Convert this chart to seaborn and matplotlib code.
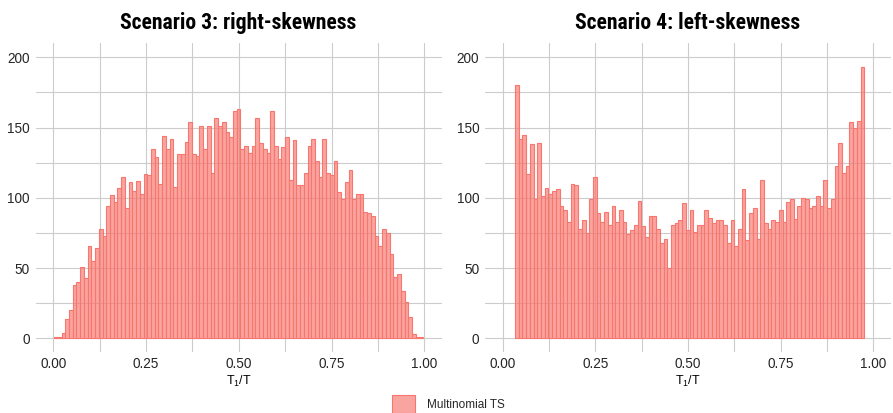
import numpy as np
import matplotlib
matplotlib.use("Agg")
import matplotlib.pyplot as plt
from matplotlib.patches import Patch
from matplotlib import font_manager
import seaborn as sns

# Histogram counts of T1/T (bin width ~0.01) for the two scenarios
right_skew_counts = [
    1, 1, 4, 14, 20, 38, 40, 51, 43, 66, 55, 64,
    78, 73, 94, 102, 97, 107, 115, 93, 111, 105, 112, 103, 117, 116, 135, 129,
    110, 144, 135, 142, 108, 131, 131, 140, 154, 131, 130, 151, 135, 151, 118,
    157, 151, 154, 147, 143, 162, 163, 135,
    137, 132, 137, 157, 139, 135, 132, 162, 137, 128, 136, 143, 113, 141, 109,
    109, 118, 137, 142, 126, 115, 142, 118, 116, 126, 104, 99, 111, 120, 99,
    103, 103, 90, 89, 87, 73, 66, 78, 75, 60,
    44, 46, 34, 26, 15, 3, 1, 1,
]
left_skew_counts = [
    180, 142, 145, 117, 138, 99, 139, 101, 107, 103, 105, 106, 94, 91, 83,
    110, 109, 78, 84, 75, 99, 115, 89, 83, 90, 81, 94, 83, 91, 83, 74, 77,
    81, 98, 80, 72, 87, 87, 78, 68, 71, 50, 81, 82, 84, 96, 77, 91, 76, 81,
    81, 91, 86, 82, 84, 84, 81, 68, 84, 66, 78, 106, 70, 89, 93, 71, 113, 82,
    78, 84, 83, 91, 83, 97, 99, 85, 94, 100, 99, 93, 94, 101, 94, 113, 93, 99,
    123, 139, 118, 123, 154, 150, 155, 193,
]
right_skew_span = (0.002, 0.997)
left_skew_span = (0.0332, 0.9757)

panel_titles = ["Scenario 3: right-skewness", "Scenario 4: left-skewness"]
x_ticks = [0.0, 0.25, 0.5, 0.75, 1.0]
x_tick_labels = ["0.00", "0.25", "0.50", "0.75", "1.00"]
x_minor = [0.125, 0.375, 0.625, 0.875]
y_ticks = [0, 50, 100, 150, 200]
y_minor = [25, 75, 125, 175]
legend_label = "Multinomial TS"

available = {f.name for f in font_manager.fontManager.ttflist}


def pick(*names):
    for n in names:
        if n in available:
            return n
    return "DejaVu Sans"


body_font = pick("Liberation Sans", "Arial", "DejaVu Sans")
title_font = pick("Liberation Sans Narrow", "Roboto Condensed", "Liberation Sans")
title_size = 15.6 if title_font != "Liberation Sans" else 13.0

sns.set_theme(style="whitegrid")
plt.rcParams["font.family"] = [body_font, "DejaVu Sans"]
plt.rcParams["mathtext.fontset"] = "custom"
plt.rcParams["mathtext.rm"] = body_font
plt.rcParams["mathtext.it"] = body_font

W, H = 893, 413
fig = plt.figure(figsize=(W / 100, H / 100), dpi=100)
fig.patch.set_facecolor("white")

top_px, bottom_px = 43.3, 352.4
panels_px = [(35.5, 441.7), (484.9, 890.7)]

bar_face = (0xF8 / 255, 0x76 / 255, 0x6D / 255, 0.66)
bar_edge = "#F8766D"
grid_col = "#CCCCCC"
text_col = "#262626"

series = [(right_skew_counts, right_skew_span), (left_skew_counts, left_skew_span)]

for (l, r), (counts, (lo, hi)), title in zip(panels_px, series, panel_titles):
    ax = fig.add_axes([l / W, 1 - bottom_px / H, (r - l) / W, (bottom_px - top_px) / H])
    n = len(counts)
    edges = np.linspace(lo, hi, n + 1)
    centers = (edges[:-1] + edges[1:]) / 2
    sns.histplot(x=centers, weights=counts, bins=list(edges), ax=ax,
                 facecolor=bar_face, edgecolor=bar_edge, linewidth=0.8)
    ax.set_xlim(-0.048, 1.047)
    ax.set_ylim(-10, 210)
    ax.set_facecolor("white")
    for s in ax.spines.values():
        s.set_visible(False)
    ax.set_xticks(x_ticks)
    ax.set_xticklabels(x_tick_labels)
    ax.set_xticks(x_minor, minor=True)
    ax.set_yticks(y_ticks)
    ax.set_yticks(y_minor, minor=True)
    ax.grid(which="both", color=grid_col, linewidth=0.8)
    ax.set_axisbelow(True)
    ax.tick_params(which="both", length=0)
    ax.tick_params(axis="x", pad=3.5, labelsize=9.8, labelcolor=text_col)
    ax.tick_params(axis="y", pad=4, labelsize=9.8, labelcolor=text_col)
    ax.set_ylabel("")
    ax.set_xlabel(r"$\mathrm{T_1/T}$", fontsize=9, color="black", labelpad=2)
    fig.text((l + r) / 2 / W, 1 - 23 / H, title, ha="center", va="center",
             fontsize=title_size, fontweight="bold", family=title_font, color="black")

handle = Patch(facecolor=bar_face, edgecolor=bar_edge, linewidth=0.8)
fig.legend(handles=[handle], labels=[legend_label], loc="center",
           bbox_to_anchor=(448 / W, 1 - 404 / H), frameon=False,
           handlelength=2.0, handleheight=2.0, handletextpad=0.95,
           fontsize=8.5, borderpad=0.2)

fig.savefig("out.png", dpi=100, facecolor="white")
